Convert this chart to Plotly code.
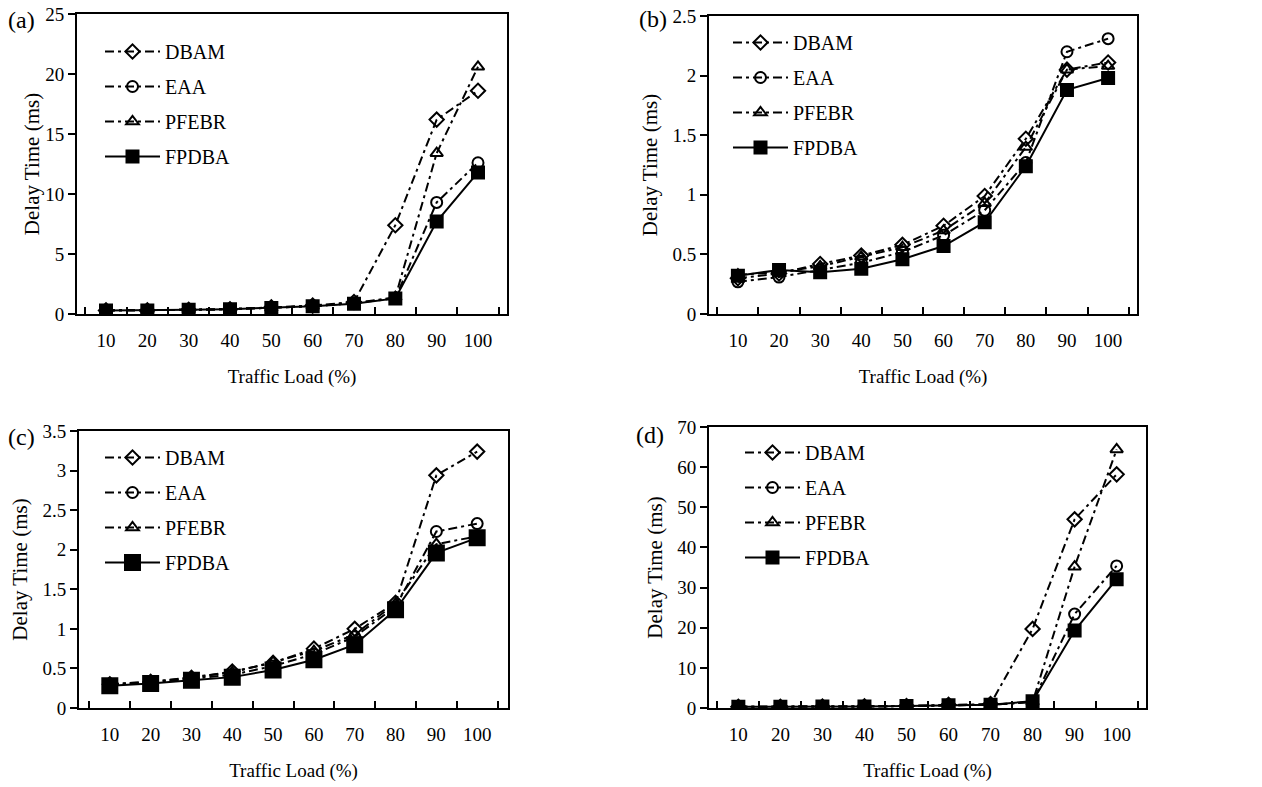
import plotly.graph_objects as go

loads = ["10", "20", "30", "40", "50", "60", "70", "80", "90", "100"]
series_names = ["DBAM", "EAA", "PFEBR", "FPDBA"]

a_dbam = [0.3, 0.3, 0.35, 0.4, 0.55, 0.7, 1.0, 7.4, 16.2, 18.6]
a_eaa = [0.3, 0.3, 0.35, 0.4, 0.5, 0.65, 0.9, 1.3, 9.3, 12.6]
a_pfebr = [0.3, 0.3, 0.35, 0.4, 0.5, 0.65, 0.9, 1.4, 13.4, 20.6]
a_fpdba = [0.3, 0.3, 0.35, 0.4, 0.5, 0.65, 0.85, 1.3, 7.7, 11.8]

b_dbam = [0.30, 0.34, 0.42, 0.49, 0.58, 0.74, 0.99, 1.47, 2.05, 2.11]
b_eaa = [0.27, 0.31, 0.37, 0.43, 0.52, 0.66, 0.87, 1.27, 2.20, 2.31]
b_pfebr = [0.33, 0.35, 0.40, 0.48, 0.56, 0.70, 0.93, 1.40, 2.05, 2.08]
b_fpdba = [0.32, 0.37, 0.35, 0.38, 0.46, 0.57, 0.77, 1.24, 1.88, 1.98]

c_dbam = [0.30, 0.33, 0.38, 0.46, 0.57, 0.75, 1.0, 1.33, 2.94, 3.24]
c_eaa = [0.29, 0.32, 0.37, 0.42, 0.53, 0.68, 0.90, 1.28, 2.23, 2.33]
c_pfebr = [0.30, 0.33, 0.39, 0.45, 0.58, 0.72, 0.93, 1.32, 2.07, 2.17]
c_fpdba = [0.28, 0.31, 0.35, 0.39, 0.48, 0.61, 0.80, 1.24, 1.96, 2.15]

d_dbam = [0.3, 0.3, 0.35, 0.4, 0.5, 0.8, 1.0, 19.7, 47.0, 58.2]
d_eaa = [0.3, 0.3, 0.35, 0.4, 0.5, 0.7, 0.8, 1.5, 23.4, 35.4]
d_pfebr = [0.3, 0.3, 0.35, 0.4, 0.5, 0.7, 0.8, 1.5, 35.2, 64.4]
d_fpdba = [0.3, 0.3, 0.35, 0.4, 0.5, 0.7, 0.8, 1.7, 19.3, 32.1]

panel_labels = ["(a)", "(b)", "(c)", "(d)"]
y_ranges = [[0, 25], [0, 2.5], [0, 3.5], [0, 70]]
y_dticks = [5, 0.5, 0.5, 10]
x_title = "Traffic Load (%)"
y_title = "Delay Time (ms)"

panels = [
    [a_dbam, a_eaa, a_pfebr, a_fpdba],
    [b_dbam, b_eaa, b_pfebr, b_fpdba],
    [c_dbam, c_eaa, c_pfebr, c_fpdba],
    [d_dbam, d_eaa, d_pfebr, d_fpdba],
]

W, H = 1262, 787
# plot areas in pixels: left, right, top, bottom
boxes = [(77, 507, 14, 314), (709, 1137, 16, 314), (79, 508, 431, 708), (709, 1146, 427, 708)]
legend_pos = [(100, 32), (728, 23), (100, 438), (740, 433)]
label_pos = [(6, 20), (637, 19), (6, 437), (634, 435)]
ytitle_standoff = [0, 9, 9, 9]

FONT = "Liberation Serif"
symbols = ["diamond-open", "circle-open", "triangle-up-open", "square"]
dashes = ["9px,4px,3px,4px", "9px,4px,3px,4px", "9px,4px,3px,4px", "solid"]
msizes = [11, 11, 11, 12]

fig = go.Figure()
for p, data in enumerate(panels):
    sfx = "" if p == 0 else str(p + 1)
    for s, vals in enumerate(data):
        ms = msizes[s] + (3 if (p == 2 and s == 3) else 0)
        fig.add_trace(go.Scatter(
            x=loads, y=vals, name=series_names[s], mode="lines+markers",
            xaxis="x" + sfx, yaxis="y" + sfx,
            legend="legend" + sfx, legendgroup=f"g{p}{s}",
            line=dict(color="black", width=2, dash=dashes[s]),
            marker=dict(symbol=symbols[s], size=ms, color="black",
                        line=dict(color="black", width=2)),
        ))
    l, r, t, b = boxes[p]
    fig.layout["xaxis" + sfx] = dict(
        domain=[l / W, r / W], anchor="y" + sfx, type="category",
        automargin=False,
        tickson="boundaries", ticks="inside", ticklen=7, tickwidth=1.5,
        tickcolor="black", showline=True, linecolor="black", linewidth=2,
        mirror=True, showgrid=False, zeroline=False,
        tickfont=dict(family=FONT, size=19, color="black"),
        ticklabelstandoff=8,
        title=dict(text=x_title, font=dict(family=FONT, size=19, color="black"), standoff=20),
    )
    fig.layout["yaxis" + sfx] = dict(
        domain=[1 - b / H, 1 - t / H], anchor="x" + sfx,
        automargin=False,
        range=y_ranges[p], dtick=y_dticks[p], tick0=0,
        ticks="outside", ticklen=7, tickwidth=1.5, tickcolor="black",
        showline=True, linecolor="black", linewidth=2, mirror=True,
        showgrid=False, zeroline=False,
        tickfont=dict(family=FONT, size=19, color="black"),
        title=dict(text=y_title, font=dict(family=FONT, size=21, color="black"),
                   standoff=ytitle_standoff[p]),
    )
    lx, ly = legend_pos[p]
    fig.layout["legend" + sfx] = dict(
        x=lx / W, y=1 - ly / H, xanchor="left", yanchor="top",
        xref="paper", yref="paper", bgcolor="rgba(0,0,0,0)",
        font=dict(family=FONT, size=20, color="black"),
        itemwidth=55, tracegroupgap=6,
    )
    ax, ay = label_pos[p]
    fig.add_annotation(text=panel_labels[p], x=ax / W, y=1 - ay / H, xref="paper", yref="paper",
                       xanchor="left", yanchor="middle", showarrow=False,
                       font=dict(family=FONT, size=24, color="black"))

fig.update_layout(width=W, height=H, margin=dict(l=0, r=0, t=0, b=0, autoexpand=False),
                  font=dict(family=FONT, size=19, color="black"),
                  paper_bgcolor="white", plot_bgcolor="white", showlegend=True)
fig.write_html("out.html")
